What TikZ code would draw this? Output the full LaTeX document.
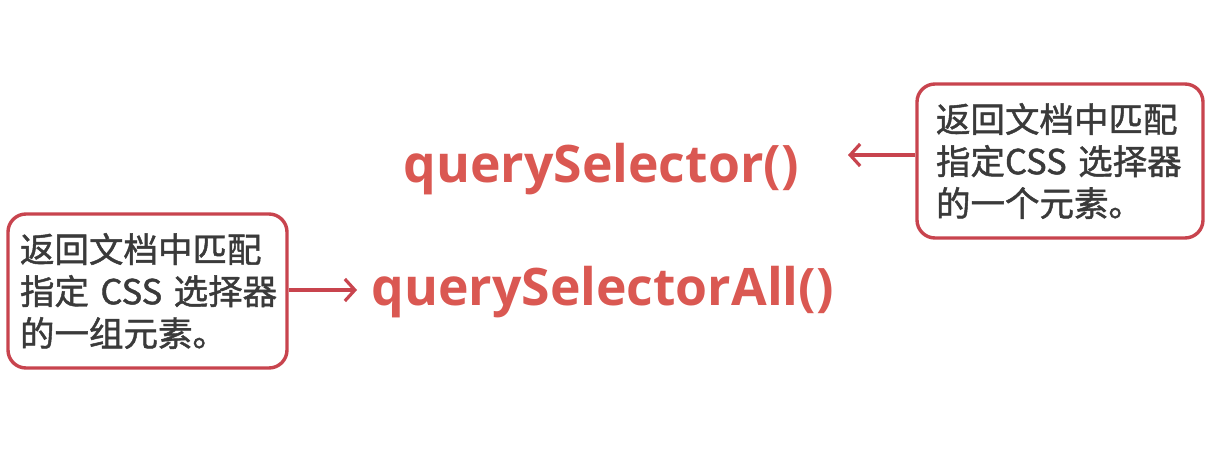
\documentclass[tikz,border=0pt]{standalone}
\usepackage{fontspec}
\setmainfont{Open Sans}
\newfontfamily\cjk{Noto Sans CJK SC}[FakeBold=1.3]
\newfontfamily\latinbold{Open Sans}[UprightFont=* Bold]
\usetikzlibrary{arrows.meta}
\definecolor{qred}{RGB}{218,88,82}
\definecolor{bred}{RGB}{200,68,78}
\definecolor{tgray}{RGB}{58,58,58}
\tikzset{
  notebox/.style={draw=bred, line width=3.4pt, rounded corners=18pt, fill=white,
    minimum height=154pt, inner xsep=0pt, align=left, text=tgray,
    font=\cjk\fontsize{34.5}{42}\selectfont},
  fname/.style={text=qred, font=\latinbold\fontsize{51.7}{56}\selectfont, anchor=base, inner sep=0pt},
  conn/.style={draw=bred, line width=3.2pt, -{Straight Barb[length=10pt,width=22pt,line width=3.2pt]}}
}
\begin{document}
\begin{tikzpicture}[x=1pt,y=1pt]
\useasboundingbox (0,0) rectangle (1228,459);
\node[notebox, minimum width=286pt, text width=248pt] (rbox) at (1060,298)
  {\mbox{返回文档中匹配}\\\mbox{指定CSS 选择器}\\\mbox{的一个元素。}};
\node[notebox, minimum width=279pt, text width=255pt] (lbox) at (147.5,168)
  {\mbox{返回文档中匹配}\\\mbox{指定 CSS 选择器}\\\mbox{的一组元素。}};
\node[fname] (qs) at (601,277) {querySelector()};
\node[fname] (qsa) at (602.5,154) {querySelectorAll()};
\coordinate (rend) at (848,304);
\coordinate (lend) at (357,169);
\draw[conn] (rbox.west |- rend) -- (rend);
\draw[conn] (lbox.east |- lend) -- (lend);
\end{tikzpicture}
\end{document}
